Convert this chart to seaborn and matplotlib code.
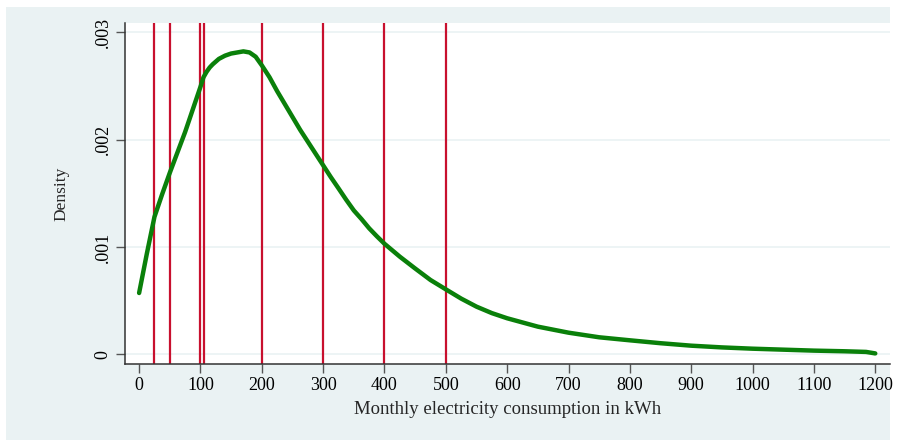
import matplotlib
matplotlib.use("Agg")
import matplotlib.pyplot as plt
from matplotlib.patches import Rectangle
import seaborn as sns
import pandas as pd

# Kernel density estimate of monthly household electricity consumption
kwh = [0, 12.5, 25, 37.5, 50, 62.5, 75, 87.5, 100, 105, 110, 115, 120, 130,
       140, 150, 160, 170, 180, 190, 200, 212.5, 225, 237.5, 250, 262.5, 275,
       287.5, 300, 312.5, 325, 337.5, 350, 362.5, 375, 387.5, 400, 425, 450,
       475, 500, 525, 550, 575, 600, 650, 700, 750, 800, 850, 900, 950, 1000,
       1050, 1100, 1150, 1185, 1200]
density = [0.000572, 0.000935, 0.00128, 0.00149, 0.00169, 0.00188, 0.00207,
           0.00228, 0.00249, 0.00258, 0.00263, 0.00267, 0.00270, 0.00275,
           0.00278, 0.00280, 0.00281, 0.00282, 0.00281, 0.00277, 0.00269,
           0.00258, 0.00245, 0.00233, 0.00221, 0.00209, 0.00198, 0.00187,
           0.00176, 0.00165, 0.001546, 0.00144, 0.00134, 0.00126, 0.001174,
           0.0011, 0.00103, 0.00091, 0.0008, 0.000693, 0.000606, 0.00052,
           0.000445, 0.000385, 0.000337, 0.000259, 0.000203, 0.00016,
           0.000132, 0.000105, 0.000082, 0.000066, 0.000054, 0.000045,
           0.000036, 0.00003, 0.000024, 0.00001]

# Tariff block thresholds (kWh)
thresholds = [25, 50, 100, 105, 200, 300, 400, 500]

x_ticks = list(range(0, 1201, 100))
y_ticks = [0, 0.001, 0.002, 0.003]
y_tick_labels = ["0", ".001", ".002", ".003"]

bg = "#EAF2F3"
green = "#0A800A"
red = "#C8102E"

sns.set_theme(style="white")
plt.rcParams["font.family"] = ["Liberation Serif", "DejaVu Serif"]

fig = plt.figure(figsize=(9.03, 4.40), dpi=100, facecolor="white")
fig.patches.append(Rectangle((6 / 903, 0), (890 - 6) / 903, (440 - 7) / 440,
                             transform=fig.transFigure, facecolor=bg,
                             edgecolor="none", zorder=-10))
ax = fig.add_axes([125 / 903, (440 - 364) / 440, (890 - 125) / 903,
                   (364 - 23) / 440])
ax.set_zorder(1)
ax.set_facecolor("white")

for yt in y_ticks:
    ax.axhline(yt, color=bg, lw=1.2, zorder=0)

for t in thresholds:
    ax.axvline(t, color=red, lw=1.6, zorder=1)

df = pd.DataFrame({"kwh": kwh, "density": density})
sns.lineplot(data=df, x="kwh", y="density", color=green, lw=3.2, ax=ax,
             zorder=3)
ax.lines[-1].set_solid_joinstyle("round")
ax.lines[-1].set_solid_capstyle("round")

ax.set_xlim(-23, 1224)
ax.set_ylim(-0.0000884, 0.003084)

ax.set_xticks(x_ticks)
ax.set_xticklabels([str(v) for v in x_ticks], fontsize=13)
ax.set_yticks(y_ticks)
ax.set_yticklabels(y_tick_labels, fontsize=13, rotation=90, va="center")

ax.tick_params(axis="both", direction="out", length=6.5, width=1,
               color="#555555", labelcolor="black", pad=3,
               bottom=True, left=True)

for side in ["top", "right"]:
    ax.spines[side].set_visible(False)
for side in ["left", "bottom"]:
    ax.spines[side].set_color("#333333")
    ax.spines[side].set_linewidth(1.1)

ax.set_xlabel("Monthly electricity consumption in kWh", fontsize=13.5,
              labelpad=5)
ax.set_ylabel("Density", fontsize=12.5, labelpad=18)

fig.savefig("out.png", dpi=100, facecolor="white")
